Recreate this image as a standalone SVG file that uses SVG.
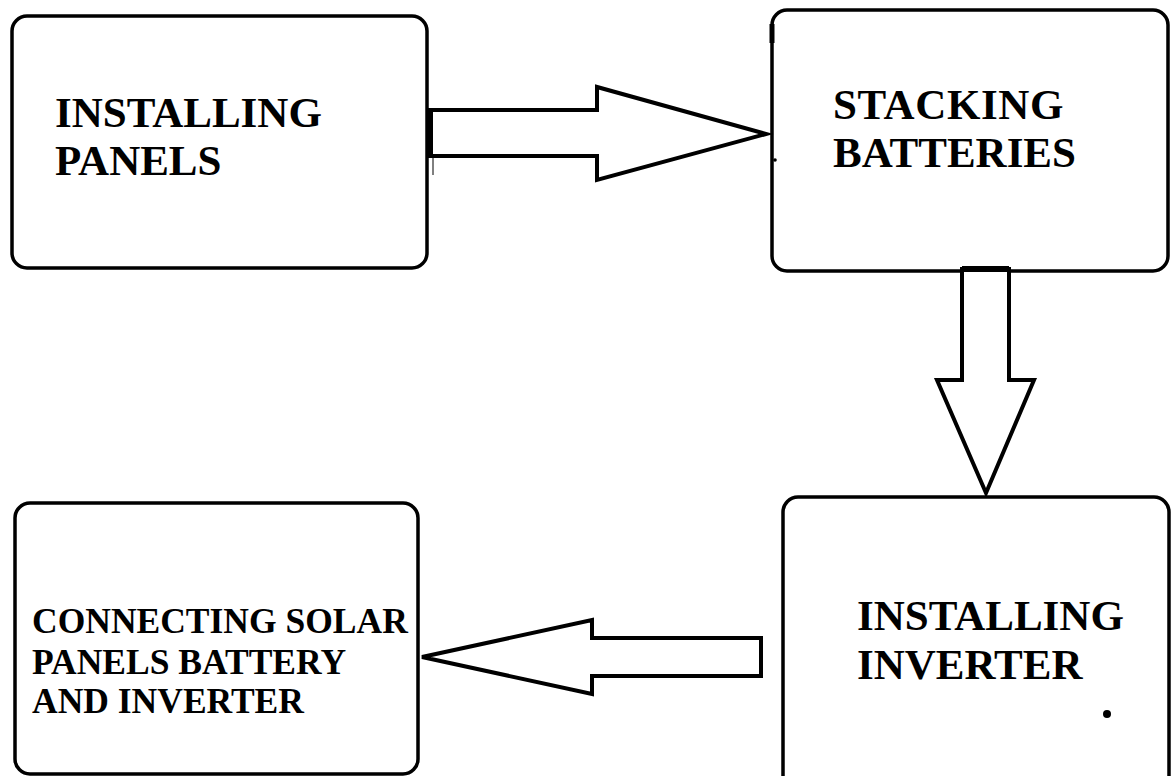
<svg xmlns="http://www.w3.org/2000/svg" width="1172" height="776" viewBox="0 0 1172 776">
<style>
.box{fill:#fff;stroke:#000;stroke-width:3.5}
.arr{fill:#fff;stroke:#000;stroke-width:4;stroke-linejoin:miter}
.t{font-family:"Liberation Serif","Times New Roman",serif;font-weight:bold;fill:#000}
.big{font-size:43px}
.small{font-size:35.5px}
</style>
<rect width="1172" height="776" fill="#fff"/>
<g id="node-installing-panels">
<rect class="box" x="12" y="16" width="415" height="252" rx="15"/>
<text class="t big" x="55" y="127">INSTALLING</text>
<text class="t big" x="55" y="175">PANELS</text>
</g>
<g id="node-stacking-batteries">
<rect class="box" x="772" y="10" width="396" height="261" rx="15"/>
<line x1="772" y1="24" x2="772" y2="43" stroke="#000" stroke-width="5"/>
<circle cx="775" cy="160" r="1.8" fill="#000"/>
<text class="t big" x="833" y="119" letter-spacing="0.6">STACKING</text>
<text class="t big" x="833" y="167">BATTERIES</text>
</g>
<g id="node-installing-inverter">
<rect class="box" x="783" y="497" width="386" height="300" rx="15"/>
<text class="t big" x="857" y="630">INSTALLING</text>
<text class="t big" x="857" y="679">INVERTER</text>
<circle cx="1107" cy="714" r="4" fill="#000"/>
</g>
<g id="node-connecting">
<rect class="box" x="15" y="503" width="403" height="271" rx="15"/>
<text class="t small" x="32" y="633">CONNECTING SOLAR</text>
<text class="t small" x="32" y="674">PANELS BATTERY</text>
<text class="t small" x="32" y="713">AND INVERTER</text>
</g>
<g id="connectors">
<polygon class="arr" points="430,110 597,110 597,87 766,134 597,180 597,156 430,156"/>
<line x1="430" y1="110" x2="430" y2="156" stroke="#000" stroke-width="6"/>
<line x1="433" y1="156" x2="433" y2="175" stroke="#000" stroke-width="1"/>
<circle cx="762" cy="134" r="1.8" fill="#000"/>
<polygon class="arr" points="962,269 1009,269 1009,380 1034,380 986,493 937,380 962,380"/>
<line x1="962" y1="269" x2="1009" y2="269" stroke="#000" stroke-width="6"/>
<polygon class="arr" points="761,638 592,638 592,620 422,657 592,694 592,676 761,676"/>
</g>
</svg>
